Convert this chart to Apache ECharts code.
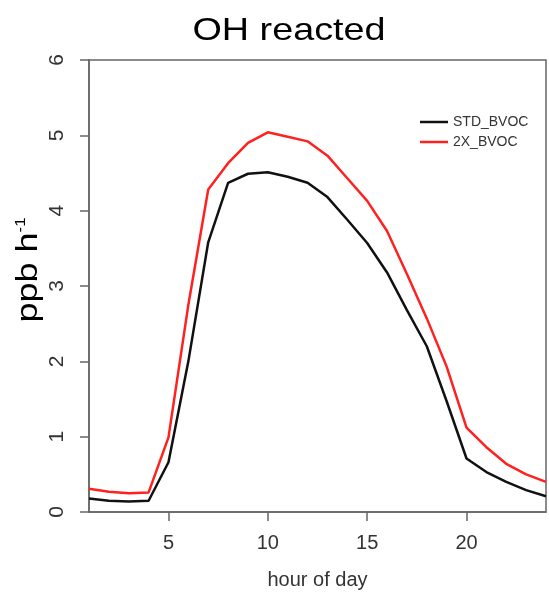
<!DOCTYPE html>
<html>
<head>
<meta charset="utf-8">
<script src="https://cdn.jsdelivr.net/npm/echarts@6/dist/echarts.min.js"></script>
<style>
  html, body { margin: 0; padding: 0; background: #fff; }
  #main { width: 549px; height: 595px; }
</style>
</head>
<body>
<div id="main"></div>
<script>
// hours 1..24
var hours = [1,2,3,4,5,6,7,8,9,10,11,12,13,14,15,16,17,18,19,20,21,22,23,24];
var stdBvoc = [0.18,0.15,0.14,0.15,0.66,2.0,3.58,4.37,4.49,4.51,4.45,4.37,4.18,3.88,3.57,3.18,2.68,2.2,1.47,0.71,0.53,0.40,0.29,0.21];
var x2Bvoc  = [0.31,0.27,0.25,0.26,0.99,2.75,4.28,4.63,4.90,5.04,4.98,4.92,4.73,4.43,4.13,3.73,3.16,2.57,1.93,1.12,0.86,0.64,0.50,0.40];
var xTicks = [5,10,15,20];
var seriesNames = ['STD_BVOC','2X_BVOC'];

var myChart = echarts.init(document.getElementById('main'));
var font = 'Liberation Sans, Arial, sans-serif';

function pairs(vals){
  return hours.map(function(h, i){ return [h, vals[i]]; });
}

var option = {
  animation: false,
  legend: {
    data: seriesNames,
    orient: 'vertical',
    left: 415,
    top: 110,
    icon: 'rect',
    itemWidth: 28,
    itemHeight: 2.5,
    itemGap: 6,
    textStyle: { fontFamily: font, fontSize: 14, color: '#333' }
  },
  grid: {
    left: 89, right: 3, top: 60, bottom: 78,
    show: true, borderColor: '#666', borderWidth: 1.5
  },
  xAxis: {
    type: 'value',
    min: 1, max: 24,
    name: 'hour of day',
    nameLocation: 'middle',
    nameGap: 58,
    nameTextStyle: { fontFamily: font, fontSize: 20, color: '#333' },
    splitLine: { show: false },
    axisLine: { show: true, lineStyle: { color: '#666', width: 1.5 } },
    axisTick: { show: true, length: 9, customValues: xTicks, lineStyle: { color: '#666', width: 1.5 } },
    axisLabel: { customValues: xTicks, margin: 21, fontFamily: font, fontSize: 20, color: '#333' }
  },
  yAxis: {
    type: 'value',
    min: 0, max: 6, interval: 1,
    splitLine: { show: false },
    axisLine: { show: true, lineStyle: { color: '#666', width: 1.5 } },
    axisTick: { show: true, length: 9, lineStyle: { color: '#666', width: 1.5 } },
    axisLabel: { rotate: 90, margin: 21, fontFamily: font, fontSize: 21, color: '#333' }
  },
  graphic: [
    {
      type: 'text',
      x: 289, y: 31,
      scaleX: 1.18,
      style: {
        text: 'OH reacted',
        fontFamily: font, fontSize: 32, fill: '#000',
        align: 'center', verticalAlign: 'middle'
      }
    },
    {
      type: 'text',
      x: 29, y: 270,
      rotation: Math.PI / 2,
      scaleX: 1.2,
      style: {
        text: '{a|ppb h}{s|-1}',
        align: 'center', verticalAlign: 'middle',
        rich: {
          a: { fontFamily: font, fontSize: 30, fill: '#000' },
          s: { fontFamily: font, fontSize: 14, fill: '#000', verticalAlign: 'top', padding: [0,0,14,0] }
        }
      }
    }
  ],
  series: [
    {
      name: seriesNames[0],
      type: 'line',
      data: pairs(stdBvoc),
      symbol: 'none',
      lineStyle: { color: '#111', width: 2.5 },
      itemStyle: { color: '#111' }
    },
    {
      name: seriesNames[1],
      type: 'line',
      data: pairs(x2Bvoc),
      symbol: 'none',
      lineStyle: { color: '#ff2020', width: 2.5 },
      itemStyle: { color: '#ff2020' }
    }
  ]
};

myChart.setOption(option);
window.onresize = myChart.resize;
</script>
</body>
</html>
